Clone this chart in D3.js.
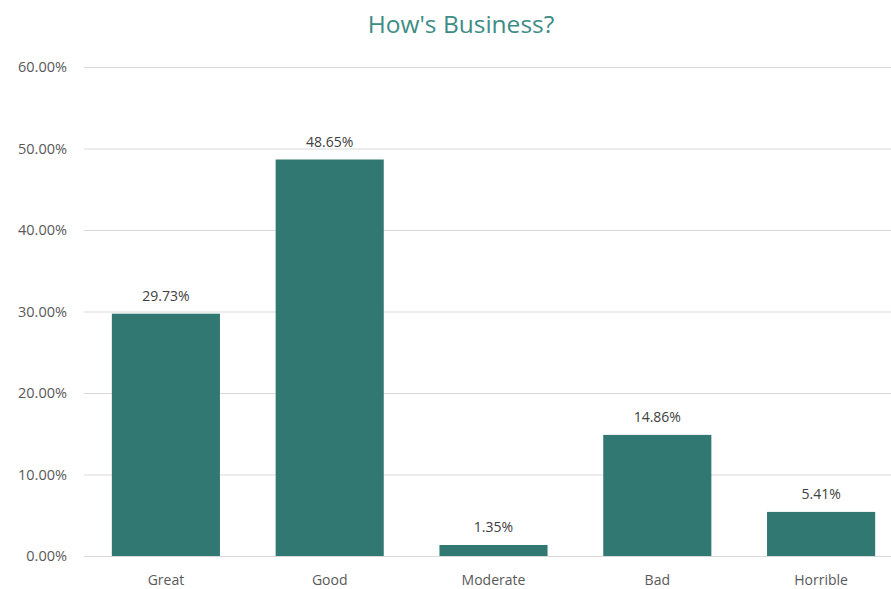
<!DOCTYPE html>
<html>
<head>
<meta charset="utf-8">
<script src="https://cdn.jsdelivr.net/npm/d3@7"></script>
<style>
  html, body { margin: 0; padding: 0; background: #fff; }
  svg { display: block; }
</style>
</head>
<body>
<svg id="chart" width="891" height="589"></svg>
<script>
// Survey answers: share of respondents per rating
const categories = ["Great", "Good", "Moderate", "Bad", "Horrible"];
const shares = [0.2973, 0.4865, 0.0135, 0.1486, 0.0541];
const yTicks = [0, 0.1, 0.2, 0.3, 0.4, 0.5, 0.6];
const title = "How's Business?";

const svg = d3.select("#chart");
const font = "'Open Sans', 'Liberation Sans', sans-serif";
const textColor = "#595959";
const barColor = "#317873";

const x = d3.scaleBand()
  .domain(categories)
  .range([84, 903])
  .paddingInner(0.34)
  .paddingOuter(0.17);

const y = d3.scaleLinear()
  .domain([0, 0.6])
  .range([556, 67]);

// Title
svg.append("text")
  .attr("x", 461)
  .attr("y", 33)
  .attr("text-anchor", "middle")
  .attr("font-family", font)
  .attr("font-size", 24.5)
  .attr("fill", "#3E8C86")
  .text(title);

// Gridlines and y-axis labels
const yAxis = d3.axisLeft(y)
  .tickValues(yTicks)
  .tickFormat(d3.format(".2%"))
  .tickSize(-(903 - 84))
  .tickPadding(17);

const yG = svg.append("g")
  .attr("transform", "translate(84,0)")
  .call(yAxis);
yG.select(".domain").remove();
yG.selectAll(".tick line").attr("stroke", "#d9d9d9").attr("stroke-width", 1);
yG.selectAll(".tick text")
  .attr("font-family", font)
  .attr("font-size", 14.5)
  .attr("fill", textColor);

// Bars
svg.append("g")
  .selectAll("rect")
  .data(categories)
  .join("rect")
  .attr("x", d => x(d))
  .attr("width", x.bandwidth())
  .attr("y", (d, i) => y(shares[i]))
  .attr("height", (d, i) => y(0) - y(shares[i]))
  .attr("fill", barColor);

// Value labels
svg.append("g")
  .selectAll("text")
  .data(categories)
  .join("text")
  .attr("x", d => x(d) + x.bandwidth() / 2)
  .attr("y", (d, i) => y(shares[i]) - 13)
  .attr("text-anchor", "middle")
  .attr("font-family", font)
  .attr("font-size", 14)
  .attr("fill", "#404040")
  .text((d, i) => d3.format(".2%")(shares[i]));

// Category axis
const xAxis = d3.axisBottom(x).tickSize(0).tickPadding(19);
const xG = svg.append("g")
  .attr("transform", "translate(0,556)")
  .call(xAxis);
xG.select(".domain").attr("stroke", "#d9d9d9");
xG.selectAll(".tick text")
  .attr("font-family", font)
  .attr("font-size", 14)
  .attr("fill", textColor);
</script>
</body>
</html>
